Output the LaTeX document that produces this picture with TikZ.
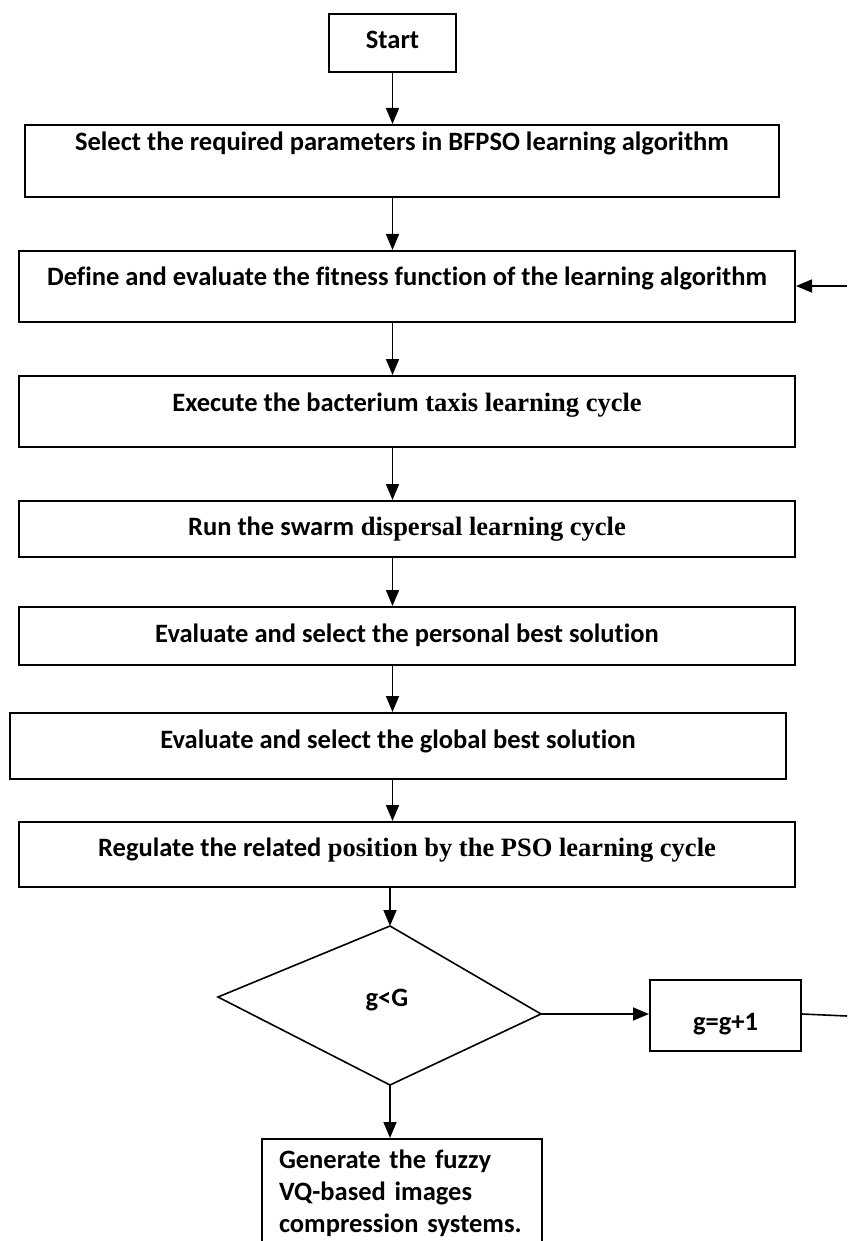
\documentclass[tikz,border=0pt]{standalone}
\usepackage{fontspec}
\setmainfont{Carlito}[Ligatures=NoCommon]
\newfontfamily\serifx{Liberation Serif}
\usetikzlibrary{arrows.meta}
\newcommand{\sr}[1]{{\serifx\bfseries #1}}
\begin{document}
\begin{tikzpicture}[x=1pt,y=-1pt,
  every node/.style={font=\fontsize{26.5}{32}\selectfont\bfseries},
  box/.style={draw, line width=2pt, inner xsep=0pt, inner ysep=0pt, align=center},
  arr/.style={line width=1.6pt, -{Triangle[length=16pt,width=13pt]}},
  ln/.style={line width=1.6pt}]
\useasboundingbox (0,0) rectangle (847,1241);
\node[box, minimum width=127pt, text height=35pt, text depth=23pt, anchor=north west] (start) at (328,13) {Start};
\node[box, minimum width=754pt, text height=26pt, text depth=46pt, anchor=north west] (b1) at (24,124) {Select the required parameters in BFPSO learning algorithm};
\node[box, minimum width=776pt, text height=34pt, text depth=37pt, anchor=north west] (b2) at (18,250) {Define and evaluate the fitness function of the learning algorithm};
\node[box, minimum width=776pt, text height=35pt, text depth=36pt, anchor=north west] (b3) at (18,375) {Execute the bacterium\sr{ taxis learning cycle}};
\node[box, minimum width=776pt, text height=34pt, text depth=22pt, anchor=north west] (b4) at (18,500) {Run the swarm\sr{ dispersal learning cycle}};
\node[box, minimum width=776pt, text height=35pt, text depth=23pt, anchor=north west] (b5) at (18,606) {Evaluate and select the personal best solution};
\node[box, minimum width=776pt, text height=35pt, text depth=31pt, anchor=north west] (b6) at (9,712) {Evaluate and select the global best solution};
\node[box, minimum width=776pt, text height=34pt, text depth=31pt, anchor=north west] (b7) at (18,821) {Regulate the related\sr{ position by the PSO learning cycle}};
% decision
\coordinate (dl) at (218,997);
\coordinate (dt) at (390,926);
\coordinate (dr) at (541,1014);
\coordinate (db) at (390,1085);
\draw[line width=1.6pt, line join=miter] (dl) -- (dt) -- (dr) -- (db) -- cycle;
\node (cond) at (387,1000) {g<G};
\node[box, minimum width=151pt, text height=50pt, text depth=21pt, anchor=north west] (gbox) at (649,979) {g=g+1};
\node[box, anchor=north west, text width=280pt, inner xsep=0pt, inner ysep=11pt, align=left] (fin) at (261,1138) {\hspace*{17pt}\parbox[t]{263pt}{\raggedright Generate the fuzzy\\VQ-based images\\compression systems.}};
\coordinate (rout) at (847,1016);
\coordinate (rin) at (847,286);
% connectors
\draw[arr] (start.south) -- (b1.north -| start.south);
\draw[arr] (b1.south -| start.south) -- (b2.north -| start.south);
\draw[arr] (b2.south -| start.south) -- (b3.north -| start.south);
\draw[arr] (b3.south -| start.south) -- (b4.north -| start.south);
\draw[arr] (b4.south -| start.south) -- (b5.north -| start.south);
\draw[arr] (b5.south -| start.south) -- (b6.north -| start.south);
\draw[arr] (b6.south -| start.south) -- (b7.north -| start.south);
\draw[arr] (b7.south -| dt) -- (dt);
\draw[arr] (db) -- (fin.north -| db);
\draw[arr] (dr) -- (gbox.west |- dr);
\draw[ln] (gbox.east |- dr) -- (rout);
\draw[arr] (rin) -- (b2.east |- rin);
\end{tikzpicture}
\end{document}
